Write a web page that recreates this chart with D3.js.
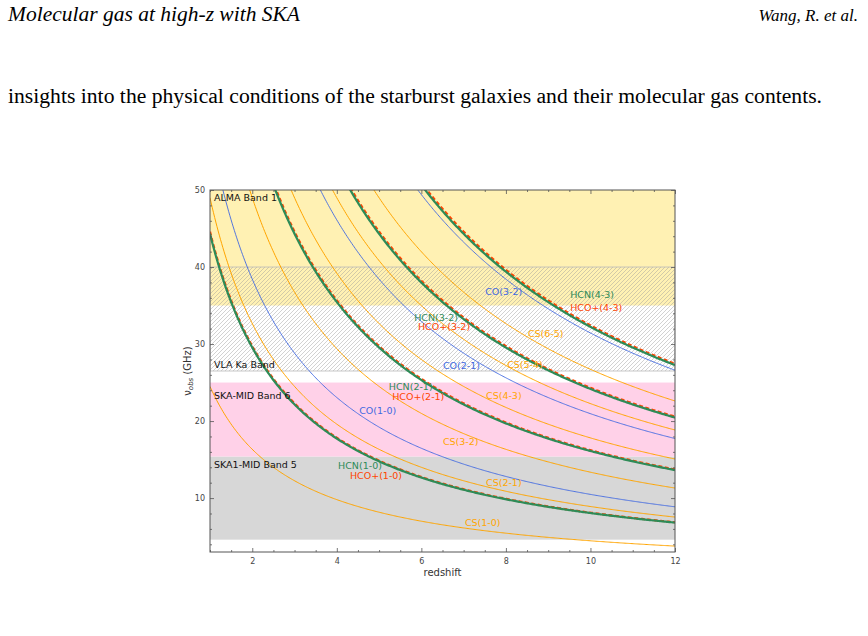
<!DOCTYPE html>
<html>
<head>
<meta charset="utf-8">
<script src="https://cdn.jsdelivr.net/npm/d3@7"></script>
<style>
  html, body { margin: 0; padding: 0; background: #fff; }
  svg { display: block; }
</style>
</head>
<body>
<svg id="chart" width="868" height="636"></svg>
<script>
// ---------------- data ----------------
const zTicks = [2, 4, 6, 8, 10, 12];
const nuTicks = [10, 20, 30, 40, 50];
const zDomain = [1, 12];
const nuDomain = [3, 50];

// rest frequencies (GHz); observed frequency = rest / (1 + z)
const coNames = ["CO(1-0)", "CO(2-1)", "CO(3-2)"];
const coRest = [115.271, 230.538, 345.796];
const hcnNames = ["HCN(1-0)", "HCN(2-1)", "HCN(3-2)", "HCN(4-3)"];
const hcnRest = [88.632, 177.261, 265.886, 354.505];
const hcoNames = ["HCO+(1-0)", "HCO+(2-1)", "HCO+(3-2)", "HCO+(4-3)"];
const hcoRest = [89.189, 178.375, 267.558, 356.734];
const csNames = ["CS(1-0)", "CS(2-1)", "CS(3-2)", "CS(4-3)", "CS(5-4)", "CS(6-5)"];
const csRest = [48.991, 97.981, 146.969, 195.954, 244.936, 293.912];

// observing bands (GHz)
const bandNames = ["SKA1-MID Band 5", "SKA-MID Band 6", "VLA Ka Band", "ALMA Band 1"];
const bandLow = [4.6, 15.4, 26.5, 35];
const bandHigh = [15.4, 25.0, 40, 50];
const bandLabelNu = [14.39, 23.34, 27.37, 48.97];

// line-label anchors (redshift, GHz)
const lineLabelNames = ["CO(3-2)", "HCN(4-3)", "HCO+(4-3)", "HCN(3-2)", "HCO+(3-2)", "CS(6-5)",
  "CO(2-1)", "CS(5-4)", "HCN(2-1)", "HCO+(2-1)", "CO(1-0)", "CS(4-3)", "CS(3-2)",
  "HCN(1-0)", "HCO+(1-0)", "CS(2-1)", "CS(1-0)"];
const lineLabelZ = [7.51, 9.52, 9.52, 5.83, 5.92, 8.52, 6.51, 8.03, 5.23, 5.31, 4.53, 7.53, 6.51, 4.03, 4.31, 7.53, 7.03];
const lineLabelNu = [36.8, 36.4, 34.76, 33.47, 32.23, 31.39, 27.17, 27.36, 24.45, 23.15, 21.4, 23.34, 17.37, 14.19, 12.89, 12.05, 6.86];

// ---------------- layout ----------------
const svg = d3.select("#chart");
const M = { left: 210, right: 675, top: 190, bottom: 552 };
const x = d3.scaleLinear().domain(zDomain).range([M.left, M.right]);
const y = d3.scaleLinear().domain(nuDomain).range([M.bottom, M.top]);

const colors = { CO: "#4169e1", HCN: "#2e8b57", HCO: "#ff4500", CS: "#ffa500" };
function colorOf(name) {
  if (name.startsWith("HCO")) return colors.HCO;
  if (name.startsWith("HCN")) return colors.HCN;
  if (name.startsWith("CO")) return colors.CO;
  return colors.CS;
}

// header text
svg.append("text").attr("x", 8).attr("y", 21)
  .attr("font-family", "Liberation Serif, serif").attr("font-style", "italic")
  .attr("font-size", 20).attr("textLength", 292).attr("lengthAdjust", "spacingAndGlyphs")
  .attr("fill", "#000").text("Molecular gas at high-z with SKA");
svg.append("text").attr("x", 858).attr("y", 21).attr("text-anchor", "end")
  .attr("font-family", "Liberation Serif, serif").attr("font-style", "italic")
  .attr("font-size", 17).attr("fill", "#000").text("Wang, R. et al.");
svg.append("text").attr("x", 8).attr("y", 103)
  .attr("font-family", "Liberation Serif, serif")
  .attr("font-size", 20).attr("textLength", 814).attr("lengthAdjust", "spacingAndGlyphs")
  .attr("fill", "#000").text("insights into the physical conditions of the starburst galaxies and their molecular gas contents.");

// clip + hatch
const defs = svg.append("defs");
defs.append("clipPath").attr("id", "plotclip").append("rect")
  .attr("x", M.left).attr("y", M.top).attr("width", M.right - M.left).attr("height", M.bottom - M.top);
const pat = defs.append("pattern").attr("id", "hatch").attr("patternUnits", "userSpaceOnUse")
  .attr("width", 4).attr("height", 4);
pat.append("path").attr("d", "M-1,1 l2,-2 M0,4 l4,-4 M3,5 l2,-2")
  .attr("stroke", "#9a9a9a").attr("stroke-opacity", 0.75).attr("stroke-width", 0.6);

const plot = svg.append("g").attr("clip-path", "url(#plotclip)");

// bands
const bandFill = ["#d7d7d7", "#ffd1e8", null, "#fff1b3"];
bandNames.forEach((b, i) => {
  if (!bandFill[i]) return;
  plot.append("rect").attr("x", M.left).attr("width", M.right - M.left)
    .attr("y", y(bandHigh[i])).attr("height", y(bandLow[i]) - y(bandHigh[i]))
    .attr("fill", bandFill[i]);
});
// hatched VLA Ka band
plot.append("rect").attr("x", M.left).attr("width", M.right - M.left)
  .attr("y", y(bandHigh[2])).attr("height", y(bandLow[2]) - y(bandHigh[2]))
  .attr("fill", "url(#hatch)").attr("stroke", "#b8b8b8").attr("stroke-width", 0.8);

// curves
const zs = d3.range(0, 401).map(i => zDomain[0] + (zDomain[1] - zDomain[0]) * i / 400);
const line = d3.line().x(d => x(d[0])).y(d => y(d[1]));
function curve(rest) { return zs.map(z => [z, rest / (1 + z)]); }

csRest.forEach(r => plot.append("path").attr("d", line(curve(r)))
  .attr("fill", "none").attr("stroke", colors.CS).attr("stroke-width", 1));
coRest.forEach(r => plot.append("path").attr("d", line(curve(r)))
  .attr("fill", "none").attr("stroke", colors.CO).attr("stroke-width", 0.9));
hcoRest.forEach(r => plot.append("path").attr("d", line(curve(r)))
  .attr("fill", "none").attr("stroke", colors.HCO).attr("stroke-width", 2.2)
  .attr("stroke-dasharray", "4,2.5"));
hcnRest.forEach(r => plot.append("path").attr("d", line(curve(r)))
  .attr("fill", "none").attr("stroke", colors.HCN).attr("stroke-width", 2.2));

// line labels
lineLabelNames.forEach((n, i) => {
  svg.append("text").attr("x", x(lineLabelZ[i])).attr("y", y(lineLabelNu[i]))
    .attr("dominant-baseline", "central")
    .attr("font-family", "DejaVu Sans, sans-serif").attr("font-size", 9.5)
    .attr("fill", colorOf(n)).text(n);
});
// band labels
bandNames.forEach((b, i) => {
  svg.append("text").attr("x", x(1.095)).attr("y", y(bandLabelNu[i]))
    .attr("dominant-baseline", "central")
    .attr("font-family", "DejaVu Sans, sans-serif").attr("font-size", 9.5)
    .attr("fill", "#111").text(b);
});

// axes
const axisColor = "#555";
svg.append("g").attr("transform", `translate(0,${M.bottom})`)
  .call(d3.axisBottom(x).tickValues(zTicks).tickSize(-4).tickPadding(6).tickFormat(d3.format("d")));
svg.append("g").attr("transform", `translate(0,${M.top})`)
  .call(d3.axisTop(x).tickValues(zTicks).tickSize(-4).tickFormat(""));
svg.append("g").attr("transform", `translate(${M.left},0)`)
  .call(d3.axisLeft(y).tickValues(nuTicks).tickSize(-4).tickPadding(5).tickFormat(d3.format("d")));
svg.append("g").attr("transform", `translate(${M.right},0)`)
  .call(d3.axisRight(y).tickValues(nuTicks).tickSize(-4).tickFormat(""));
// minor ticks
const zMinor = d3.range(1, 12.01, 0.5).filter(v => !zTicks.includes(v));
const nuMinor = d3.range(4, 50, 2).filter(v => !nuTicks.includes(v));
svg.append("g").attr("transform", `translate(0,${M.bottom})`)
  .call(d3.axisBottom(x).tickValues(zMinor).tickSize(-2).tickFormat(""));
svg.append("g").attr("transform", `translate(0,${M.top})`)
  .call(d3.axisTop(x).tickValues(zMinor).tickSize(-2).tickFormat(""));
svg.append("g").attr("transform", `translate(${M.left},0)`)
  .call(d3.axisLeft(y).tickValues(nuMinor).tickSize(-2).tickFormat(""));
svg.append("g").attr("transform", `translate(${M.right},0)`)
  .call(d3.axisRight(y).tickValues(nuMinor).tickSize(-2).tickFormat(""));

svg.selectAll(".domain").attr("stroke", "none");
svg.selectAll(".tick line").attr("stroke", axisColor).attr("stroke-width", 0.8);
svg.selectAll(".tick text").attr("fill", "#444").attr("font-size", 8)
  .attr("font-family", "DejaVu Sans, sans-serif");
// frame
svg.append("rect").attr("x", M.left).attr("y", M.top)
  .attr("width", M.right - M.left).attr("height", M.bottom - M.top)
  .attr("fill", "none").attr("stroke", axisColor).attr("stroke-width", 1);

// axis titles
svg.append("text").attr("x", (M.left + M.right) / 2).attr("y", 576).attr("text-anchor", "middle")
  .attr("font-family", "DejaVu Sans, sans-serif").attr("font-size", 10).attr("fill", "#333")
  .text("redshift");
const yl = svg.append("text").attr("transform", `translate(191,${(M.top + M.bottom) / 2}) rotate(-90)`)
  .attr("text-anchor", "middle")
  .attr("font-family", "DejaVu Sans, sans-serif").attr("font-size", 10).attr("fill", "#333");
yl.append("tspan").text("ν");
yl.append("tspan").attr("font-size", 7).attr("font-style", "italic").attr("dy", 2).text("obs");
yl.append("tspan").attr("dy", -2).text(" (GHz)");
</script>
</body>
</html>
